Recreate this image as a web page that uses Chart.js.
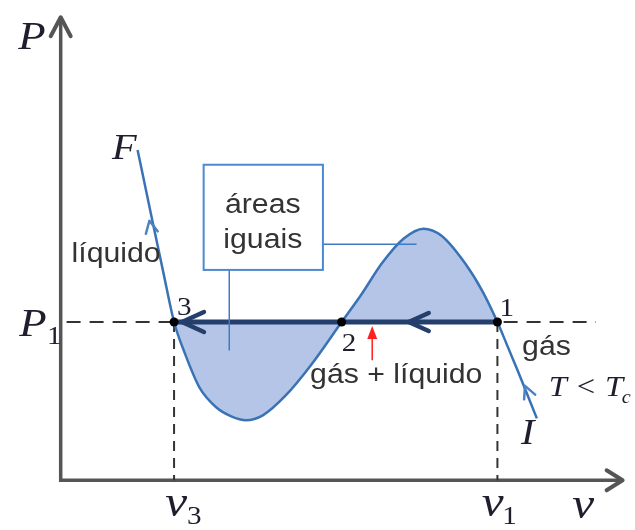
<!DOCTYPE html>
<html>
<head>
<meta charset="utf-8">
<script src="https://cdn.jsdelivr.net/npm/chart.js@4.4.1/dist/chart.umd.min.js"></script>
<style>
html,body{margin:0;padding:0;background:#fff;}
canvas{display:block;}
</style>
</head>
<body>
<canvas id="c" width="635" height="530"></canvas>
<script>
// ---- data (arbitrary v / P units) ----
const curveV = [1.56,1.86,2.08,2.30,2.52,2.82,3.16,3.46,3.76,4.10,4.56,5.06,5.70,6.10,6.52,6.96,7.36,7.72,8.20,8.56,8.86,9.06,9.26,9.46,9.66];
const curveP = [6.72,5.28,4.24,3.22,2.58,1.88,1.48,1.30,1.22,1.32,1.72,2.32,3.22,3.78,4.42,4.92,5.12,4.98,4.42,3.84,3.22,2.74,2.26,1.76,1.26];
const P1 = 3.22;
const v3 = 2.30, v2 = 5.70, v1 = 8.86;
const stateNames = ['1','2','3'];
const stateV = [v1, v2, v3];

// ---- helpers ----
const curvePts = curveV.map((v,i)=>({x:v,y:curveP[i]}));
const fillPts = curvePts.filter(p=>p.x>=v3-1e-9 && p.x<=v1+1e-9);

const C_CURVE = '#3a73b5';
const C_FILL = 'rgba(176,194,230,0.95)';
const C_THICK = '#243f6c';
const C_AXIS = '#555555';
const C_DASH = '#333333';

const overlay = {
  id:'overlay',
  afterDatasetsDraw(chart){
    const {ctx, scales:{x,y}} = chart;
    const X = v=>x.getPixelForValue(v), Y = p=>y.getPixelForValue(p);
    function chevron(tx,ty,fx,fy,len,hw,color,lw){
      const a = Math.atan2(ty-fy, tx-fx);
      const bx = tx - len*Math.cos(a), by = ty - len*Math.sin(a);
      const nx = -Math.sin(a)*hw, ny = Math.cos(a)*hw;
      ctx.save();
      ctx.strokeStyle=color; ctx.lineWidth=lw; ctx.lineCap='round'; ctx.lineJoin='round';
      ctx.beginPath();
      ctx.moveTo(bx+nx,by+ny); ctx.lineTo(tx,ty); ctx.lineTo(bx-nx,by-ny);
      ctx.stroke(); ctx.restore();
    }
    // axis arrowheads
    chevron(X(0),Y(9.42),X(0),Y(0),19,10,C_AXIS,4);
    chevron(X(11.4),Y(0),X(0),Y(0),16,10,C_AXIS,4);
    // thick line arrows
    chevron(X(2.46),Y(P1),X(v1),Y(P1),22,10,C_THICK,4.5);
    chevron(X(7.06),Y(P1),X(v1),Y(P1),20,9,C_THICK,4.5);
    // curve arrows
    chevron(X(1.80),Y(5.28),X(1.86),Y(4.98),12,6,'#4a82c2',2.5);
    chevron(X(9.42),Y(1.92),X(9.52),Y(1.68),12,6,'#4a82c2',2.5);
    // red arrow
    ctx.save();
    ctx.strokeStyle='#ff2020'; ctx.fillStyle='#ff2020'; ctx.lineWidth=1.5;
    ctx.beginPath(); ctx.moveTo(X(6.32),Y(2.44)); ctx.lineTo(X(6.32),Y(3.0)); ctx.stroke();
    ctx.beginPath(); ctx.moveTo(X(6.32),Y(3.14)); ctx.lineTo(X(6.32)-5,Y(3.14)+13); ctx.lineTo(X(6.32)+5,Y(3.14)+13); ctx.closePath(); ctx.fill();
    ctx.restore();
    // leader lines
    ctx.save();
    ctx.strokeStyle='#3d7bc4'; ctx.lineWidth=1.5;
    ctx.beginPath(); ctx.moveTo(X(5.32),Y(4.80)); ctx.lineTo(X(7.22),Y(4.80)); ctx.stroke();
    ctx.beginPath(); ctx.moveTo(X(3.42),Y(4.28)); ctx.lineTo(X(3.42),Y(2.64)); ctx.stroke();
    // box
    ctx.fillStyle='#fff'; ctx.strokeStyle='#4a8ad0'; ctx.lineWidth=2;
    const bl=X(2.90), br=X(5.32), bt=Y(6.42), bb=Y(4.28);
    ctx.fillRect(bl,bt,br-bl,bb-bt); ctx.strokeRect(bl,bt,br-bl,bb-bt);
    ctx.restore();
    // texts
    const SANS='"Liberation Sans", Arial, sans-serif';
    const SERIF='"Liberation Serif", "Times New Roman", serif';
    const labels = [
      {t:'áreas', v:4.10, p:5.44, f:'27px '+SANS, a:'center', c:'#333'},
      {t:'iguais', v:4.10, p:4.72, f:'27px '+SANS, a:'center', c:'#333'},
      {t:'líquido', v:0.22, p:4.44, f:'27px '+SANS, c:'#333'},
      {t:'gás', v:9.36, p:2.54, f:'27px '+SANS, c:'#333'},
      {t:'gás + líquido', v:5.06, p:1.98, f:'27px '+SANS, c:'#333'},
      {t:'P', v:-0.86, p:8.78, f:'italic 40px '+SERIF, c:'#1e1e2e'},
      {t:'P', v:-0.84, p:2.94, f:'italic 40px '+SERIF, c:'#1e1e2e'},
      {t:'1', v:-0.28, p:2.78, f:'26px '+SERIF, c:'#1e1e2e'},
      {t:'v', v:2.12, p:-0.72, f:'italic 44px '+SERIF, c:'#1e1e2e'},
      {t:'3', v:2.56, p:-0.88, f:'26px '+SERIF, c:'#1e1e2e'},
      {t:'v', v:8.54, p:-0.72, f:'italic 44px '+SERIF, c:'#1e1e2e'},
      {t:'1', v:8.96, p:-0.88, f:'26px '+SERIF, c:'#1e1e2e'},
      {t:'v', v:10.38, p:-0.76, f:'italic 44px '+SERIF, c:'#1e1e2e'},
      {t:'F', v:1.04, p:6.54, f:'italic 36px '+SERIF, c:'#1e1e2e'},
      {t:'I', v:9.34, p:0.74, f:'italic 36px '+SERIF, c:'#1e1e2e'},
      {t:'T < T', v:9.90, p:1.72, f:'italic 29px '+SERIF, c:'#1e1e2e'},
      {t:'c', v:11.38, p:1.58, f:'italic 18px '+SERIF, c:'#1e1e2e'},
      {t:stateNames[0], v:8.90, p:3.34, f:'26px '+SERIF, c:'#1e1e2e'},
      {t:stateNames[1], v:5.70, p:2.64, f:'26px '+SERIF, c:'#1e1e2e'},
      {t:stateNames[2], v:2.36, p:3.36, f:'26px '+SERIF, c:'#1e1e2e'}
    ];
    labels.forEach(l=>{
      ctx.save();
      ctx.font=l.f; ctx.fillStyle=l.c; ctx.textAlign=l.a||'left'; ctx.textBaseline='alphabetic';
      ctx.translate(X(l.v),Y(l.p)); ctx.scale(1.12,1);
      ctx.fillText(l.t,0,0);
      ctx.restore();
    });
  }
};

new Chart(document.getElementById('c'), {
  type:'scatter',
  data:{datasets:[
    {data:stateV.map(v=>({x:v,y:P1})), showLine:false, pointRadius:4.5, pointBackgroundColor:'#000', pointBorderWidth:0, order:0},
    {data:[{x:v3,y:P1},{x:v1,y:P1}], showLine:true, borderColor:C_THICK, borderWidth:5, pointRadius:0, order:1},
    {data:curvePts, showLine:true, borderColor:C_CURVE, borderWidth:2.5, pointRadius:0, cubicInterpolationMode:'monotone', order:2},
    {data:[{x:0.12,y:P1},{x:10.86,y:P1}], showLine:true, borderColor:C_DASH, borderWidth:2, borderDash:[14,9], pointRadius:0, order:3},
    {data:[{x:v3,y:P1},{x:v3,y:0}], showLine:true, borderColor:C_DASH, borderWidth:2, borderDash:[10,7], pointRadius:0, order:3},
    {data:[{x:v1,y:P1},{x:v1,y:0}], showLine:true, borderColor:C_DASH, borderWidth:2, borderDash:[10,7], pointRadius:0, order:3},
    {data:fillPts, showLine:true, borderWidth:0, borderColor:'rgba(0,0,0,0)', backgroundColor:C_FILL, fill:{value:P1}, pointRadius:0, cubicInterpolationMode:'monotone', order:4},
    {data:[{x:0,y:9.42},{x:0,y:0},{x:11.4,y:0}], showLine:true, borderColor:C_AXIS, borderWidth:3.5, pointRadius:0, order:5}
  ]},
  options:{
    responsive:false, animation:false,
    layout:{padding:0},
    plugins:{legend:{display:false}, tooltip:{enabled:false}},
    scales:{
      x:{type:'linear', min:-1.14, max:11.56, display:false},
      y:{type:'linear', min:-0.92, max:9.68, display:false}
    }
  },
  plugins:[overlay]
});
</script>
</body>
</html>
